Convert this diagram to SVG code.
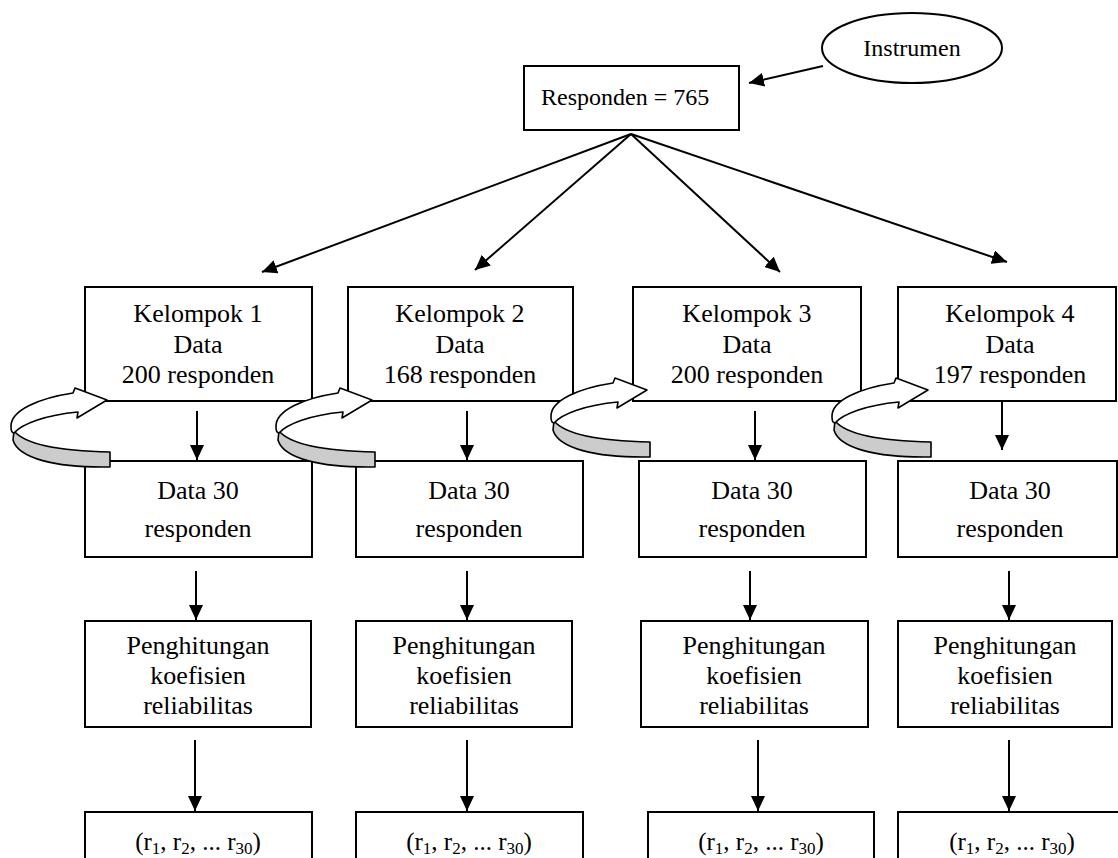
<svg xmlns="http://www.w3.org/2000/svg" width="1118" height="858" viewBox="0 0 1118 858" font-family="'Liberation Serif', 'Times New Roman', serif">
<defs>
<style>
text{font-family:"Liberation Serif","Times New Roman",serif;fill:#000}
.box{fill:#fff;stroke:#000;stroke-width:2}
.t{font-size:26px;text-anchor:middle}
.ts{font-size:24px}
.r{font-size:25px;text-anchor:middle}
.sub{font-size:17px}
.c{stroke:#000;stroke-width:2;fill:none}
.curlw{fill:#fff;stroke:#000;stroke-width:1.6;stroke-linejoin:round}
.curlg{fill:#ccc;stroke:#000;stroke-width:1.6;stroke-linejoin:round}
</style>
<marker id="ah" markerUnits="userSpaceOnUse" markerWidth="16" markerHeight="14" refX="15" refY="7" orient="auto">
<path d="M0,0 L15,7 L0,14 Z" fill="#000"/>
</marker>
<g id="curl">
<path class="curlg" d="M14,431 C25,444 60,451 110,452 L110,467 C55,468 18,458 13,440 Z"/>
<path class="curlw" d="M78,412 L77,418 L107,400 L75,388 L73,393 C40,398 10,410 11,427 C11,431 12,433 14,433 C22,424 45,415 78,412 Z"/>
</g>
</defs>

<g id="instrumen">
<ellipse cx="912" cy="48" rx="90" ry="35" fill="#fff" stroke="#000" stroke-width="2"/>
<text class="ts" x="912" y="56" text-anchor="middle">Instrumen</text>
</g>
<g id="responden">
<rect class="box" x="524" y="66" width="215" height="64"/>
<text class="ts" x="541" y="105">Responden = 765</text>
</g>

<g id="kelompok1"><rect class="box" x="85" y="287" width="227" height="114"/>
<text class="t" x="198" y="322">Kelompok 1</text><text class="t" x="198" y="353">Data</text><text class="t" x="198" y="383">200 responden</text></g>
<g id="kelompok2"><rect class="box" x="348" y="287" width="225" height="114"/>
<text class="t" x="460" y="322">Kelompok 2</text><text class="t" x="460" y="353">Data</text><text class="t" x="460" y="383">168 responden</text></g>
<g id="kelompok3"><rect class="box" x="633" y="287" width="228" height="114"/>
<text class="t" x="747" y="322">Kelompok 3</text><text class="t" x="747" y="353">Data</text><text class="t" x="747" y="383">200 responden</text></g>
<g id="kelompok4"><rect class="box" x="898" y="287" width="218" height="114"/>
<text class="t" x="1010" y="322">Kelompok 4</text><text class="t" x="1010" y="353">Data</text><text class="t" x="1010" y="383">197 responden</text></g>

<g id="data1"><rect class="box" x="85" y="461" width="227" height="96"/>
<text class="t" x="198" y="499">Data 30</text><text class="t" x="198" y="537">responden</text></g>
<g id="data2"><rect class="box" x="356" y="461" width="227" height="96"/>
<text class="t" x="469" y="499">Data 30</text><text class="t" x="469" y="537">responden</text></g>
<g id="data3"><rect class="box" x="639" y="461" width="227" height="96"/>
<text class="t" x="752" y="499">Data 30</text><text class="t" x="752" y="537">responden</text></g>
<g id="data4"><rect class="box" x="898" y="461" width="219" height="96"/>
<text class="t" x="1010" y="499">Data 30</text><text class="t" x="1010" y="537">responden</text></g>

<g id="hitung1"><rect class="box" x="85" y="621" width="226" height="106"/>
<text class="t" x="198" y="654">Penghitungan</text><text class="t" x="198" y="684">koefisien</text><text class="t" x="198" y="714">reliabilitas</text></g>
<g id="hitung2"><rect class="box" x="356" y="621" width="216" height="106"/>
<text class="t" x="464" y="654">Penghitungan</text><text class="t" x="464" y="684">koefisien</text><text class="t" x="464" y="714">reliabilitas</text></g>
<g id="hitung3"><rect class="box" x="641" y="621" width="227" height="106"/>
<text class="t" x="754" y="654">Penghitungan</text><text class="t" x="754" y="684">koefisien</text><text class="t" x="754" y="714">reliabilitas</text></g>
<g id="hitung4"><rect class="box" x="898" y="621" width="214" height="106"/>
<text class="t" x="1005" y="654">Penghitungan</text><text class="t" x="1005" y="684">koefisien</text><text class="t" x="1005" y="714">reliabilitas</text></g>

<g id="hasil1"><rect class="box" x="85" y="812" width="227" height="60"/>
<text class="r" x="198" y="850">(r<tspan class="sub" dy="4">1</tspan><tspan dy="-4">, r</tspan><tspan class="sub" dy="4">2</tspan><tspan dy="-4">, ... r</tspan><tspan class="sub" dy="4">30</tspan><tspan dy="-4">)</tspan></text></g>
<g id="hasil2"><rect class="box" x="356" y="812" width="227" height="60"/>
<text class="r" x="469" y="850">(r<tspan class="sub" dy="4">1</tspan><tspan dy="-4">, r</tspan><tspan class="sub" dy="4">2</tspan><tspan dy="-4">, ... r</tspan><tspan class="sub" dy="4">30</tspan><tspan dy="-4">)</tspan></text></g>
<g id="hasil3"><rect class="box" x="648" y="812" width="226" height="60"/>
<text class="r" x="761" y="850">(r<tspan class="sub" dy="4">1</tspan><tspan dy="-4">, r</tspan><tspan class="sub" dy="4">2</tspan><tspan dy="-4">, ... r</tspan><tspan class="sub" dy="4">30</tspan><tspan dy="-4">)</tspan></text></g>
<g id="hasil4"><rect class="box" x="898" y="812" width="232" height="60"/>
<text class="r" x="1012" y="850">(r<tspan class="sub" dy="4">1</tspan><tspan dy="-4">, r</tspan><tspan class="sub" dy="4">2</tspan><tspan dy="-4">, ... r</tspan><tspan class="sub" dy="4">30</tspan><tspan dy="-4">)</tspan></text></g>

<g id="connectors">
<line class="c" x1="823" y1="66" x2="749" y2="83" marker-end="url(#ah)"/>
<line class="c" x1="631" y1="134" x2="262" y2="272" marker-end="url(#ah)"/>
<line class="c" x1="631" y1="134" x2="475" y2="270" marker-end="url(#ah)"/>
<line class="c" x1="631" y1="134" x2="780" y2="272" marker-end="url(#ah)"/>
<line class="c" x1="631" y1="134" x2="1007" y2="262" marker-end="url(#ah)"/>
<line class="c" x1="197" y1="411" x2="197" y2="460" marker-end="url(#ah)"/>
<line class="c" x1="467" y1="411" x2="467" y2="460" marker-end="url(#ah)"/>
<line class="c" x1="755" y1="411" x2="755" y2="460" marker-end="url(#ah)"/>
<line class="c" x1="1002" y1="401" x2="1002" y2="450" marker-end="url(#ah)"/>
<line class="c" x1="196" y1="571" x2="196" y2="620" marker-end="url(#ah)"/>
<line class="c" x1="467" y1="571" x2="467" y2="620" marker-end="url(#ah)"/>
<line class="c" x1="750" y1="571" x2="750" y2="620" marker-end="url(#ah)"/>
<line class="c" x1="1009" y1="571" x2="1009" y2="620" marker-end="url(#ah)"/>
<line class="c" x1="195" y1="740" x2="195" y2="811" marker-end="url(#ah)"/>
<line class="c" x1="467" y1="740" x2="467" y2="811" marker-end="url(#ah)"/>
<line class="c" x1="758" y1="740" x2="758" y2="811" marker-end="url(#ah)"/>
<line class="c" x1="1009" y1="740" x2="1009" y2="811" marker-end="url(#ah)"/>
</g>

<g id="curl1"><use href="#curl"/></g>
<g id="curl2"><use href="#curl" transform="translate(265,0)"/></g>
<g id="curl3"><use href="#curl" transform="translate(540,-10)"/></g>
<g id="curl4"><use href="#curl" transform="translate(821,-10)"/></g>
</svg>
